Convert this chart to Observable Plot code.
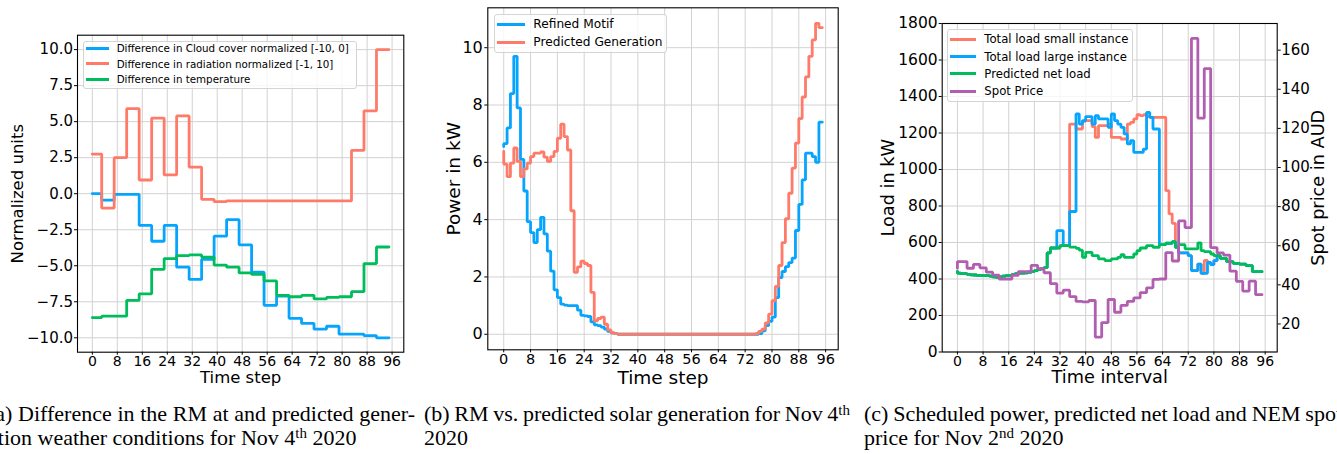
<!DOCTYPE html>
<html>
<head>
<meta charset="utf-8">
<script src="https://cdn.jsdelivr.net/npm/d3@7"></script>
<script src="https://cdn.jsdelivr.net/npm/@observablehq/plot@0.6"></script>
<style>
  html, body { margin: 0; padding: 0; background: #fff; }
  body { width: 1337px; height: 454px; overflow: hidden; position: relative; font-family: "DejaVu Sans", sans-serif; }
  .panel { position: absolute; top: 0; }
  .legend { position: absolute; background: rgba(255,255,255,0.8); border: 1px solid #d4d4d4; border-radius: 3px; box-sizing: border-box; }
  .cap { position: absolute; font-family: "Liberation Serif", "Times New Roman", serif; font-size: 22px; line-height: 23.5px; white-space: nowrap; color: #000; }
  .just { text-align: justify; text-align-last: justify; white-space: normal; word-spacing: -1.5px; }
  .sup { font-size: 68%; line-height: 0; position: relative; top: -0.45em; }
</style>
</head>
<body>
<div id="root"></div>
<script>
// ---------- shared axis values ----------
const timeSteps = d3.range(96);               // quarter-hour steps 0..95
const xTicks = [0, 8, 16, 24, 32, 40, 48, 56, 64, 72, 80, 88, 96];

// ---------- panel (a): hourly differences ----------
const cloudHourly = [0.0, -0.45, -0.05, -0.05, -2.2, -3.3, -2.2, -5.1, -5.95, -4.55, -2.95, -1.8,
  -3.55, -5.45, -7.75, -7.1, -8.65, -9.0, -9.4, -9.2, -9.75, -9.75, -9.85, -10.0];
const radiationHourly = [2.75, -1.0, 2.5, 5.9, 0.95, 5.25, 1.3, 5.4, 1.85, -0.4, -0.55, -0.5,
  -0.5, -0.5, -0.5, -0.5, -0.5, -0.5, -0.5, -0.5, -0.5, 3.0, 5.75, 10.0];
const temperatureHourly = [-8.6, -8.5, -8.5, -7.4, -6.95, -5.25, -4.5, -4.3, -4.25, -4.4, -4.95, -5.1,
  -5.5, -5.6, -6.05, -7.05, -7.15, -7.05, -7.3, -7.2, -7.15, -6.8, -4.85, -3.7];
const yTicksA = [-10, -7.5, -5, -2.5, 0, 2.5, 5, 7.5, 10];

// ---------- panel (b): refined motif vs predicted generation (kW) ----------
const refinedMotif = [
  6.55, 6.65, 7.2, 8.4, 9.7, 7.9, 6.1, 5.0, 3.93, 3.55,
  3.2, 3.65, 4.08, 3.5, 2.9, 2.2, 1.55, 1.28, 1.05, 1.02,
  1.0, 1.0, 1.0, 0.84, 0.66, 0.64, 0.62, 0.43, 0.33, 0.3,
  0.25, 0.18, 0.1, 0.05, 0.02, 0, 0, 0, 0, 0,
  0, 0, 0, 0, 0, 0, 0, 0, 0, 0,
  0, 0, 0, 0, 0, 0, 0, 0, 0, 0,
  0, 0, 0, 0, 0, 0, 0, 0, 0, 0,
  0, 0, 0, 0, 0, 0, 0, 0.02, 0.12, 0.3,
  0.45, 0.6, 1.28, 1.98, 2.19, 2.36, 2.5, 2.66, 3.62, 4.53,
  5.39, 6.32, 6.32, 6.2, 6.0, 7.4];
const predictedGeneration = [
  6.38, 5.94, 5.5, 5.97, 6.5, 6.03, 5.5, 5.77, 5.97, 6.2,
  6.32, 6.32, 6.36, 6.18, 6.03, 6.2, 6.38, 6.84, 7.33, 6.9,
  6.43, 4.31, 2.16, 2.35, 2.55, 2.47, 2.4, 1.46, 0.47, 0.55,
  0.6, 0.35, 0.15, 0.05, 0.02, 0, 0, 0, 0, 0,
  0, 0, 0, 0, 0, 0, 0, 0, 0, 0,
  0, 0, 0, 0, 0, 0, 0, 0, 0, 0,
  0, 0, 0, 0, 0, 0, 0, 0, 0, 0,
  0, 0, 0, 0, 0, 0, 0.02, 0.1, 0.18, 0.4,
  0.7, 1.17, 1.67, 2.4, 3.2, 4.03, 4.92, 5.8, 6.67, 7.53,
  8.28, 8.98, 9.7, 10.27, 10.85, 10.7];
const yTicksB = [0, 2, 4, 6, 8, 10];

// ---------- panel (c): loads (kW) and spot price (AUD) ----------
const totalLoadSmall = [
  440, 432, 429, 429, 425, 423, 422, 420, 420, 418,
  418, 416, 412, 409, 412, 416, 418, 420, 425, 430,
  432, 432, 434, 437, 440, 446, 452, 456, 462, 543,
  570, 570, 570, 583, 583, 583, 1249, 1249, 1222, 1222,
  1264, 1268, 1268, 1235, 1176, 1240, 1240, 1240, 1249, 1176,
  1176, 1176, 1167, 1167, 1249, 1258, 1277, 1300, 1295, 1300,
  1290, 1286, 1286, 1286, 1286, 1286, 884, 757, 705, 574,
  543, 543, 543, 528, 446, 446, 482, 431, 502, 491,
  479, 501, 528, 513, 513, 495, 495, 486, 486, 482,
  482, 473, 473, 440, 440, 440];
const totalLoadLarge = [
  440, 432, 429, 429, 425, 423, 422, 420, 420, 418,
  418, 416, 412, 409, 412, 416, 418, 420, 425, 430,
  432, 432, 434, 437, 440, 446, 452, 456, 462, 543,
  570, 570, 665, 665, 583, 583, 770, 770, 1304, 1249,
  1268, 1290, 1290, 1249, 1295, 1277, 1277, 1277, 1231, 1304,
  1268, 1249, 1231, 1195, 1140, 1158, 1094, 1094, 1094, 1112,
  1313, 1286, 1222, 1222, 588, 588, 596, 596, 604, 574,
  543, 543, 543, 528, 446, 446, 482, 431, 431, 491,
  479, 501, 528, 513, 513, 495, 495, 486, 486, 482,
  482, 473, 473, 440, 440, 440];
const predictedNetLoad = [
  440, 432, 429, 429, 425, 423, 422, 420, 420, 418,
  418, 416, 412, 409, 412, 416, 418, 420, 425, 430,
  432, 432, 434, 437, 440, 446, 452, 456, 462, 543,
  570, 570, 570, 583, 583, 583, 575, 575, 568, 558,
  519, 546, 546, 528, 528, 510, 510, 501, 501, 510,
  510, 519, 533, 519, 519, 519, 537, 555, 570, 570,
  583, 583, 574, 574, 588, 588, 596, 596, 604, 574,
  588, 588, 565, 565, 565, 565, 598, 555, 550, 550,
  537, 528, 528, 513, 513, 495, 495, 486, 486, 482,
  482, 473, 473, 440, 440, 440];
const spotPrice = [
  48.5, 51.9, 51.9, 51.9, 48.5, 48.5, 50.5, 50.5, 48.7, 48.7,
  46.5, 46.5, 45.0, 45.0, 43.0, 43.0, 43.0, 43.0, 44.9, 44.9,
  46.8, 46.8, 46.8, 46.8, 50.0, 50.0, 48.3, 48.3, 46.2, 46.2,
  40.6, 40.6, 35.8, 35.8, 37.3, 37.3, 34.0, 34.0, 31.5, 31.5,
  31.3, 31.3, 32.0, 32.0, 13.3, 13.3, 20.7, 20.7, 32.5, 32.5,
  26.0, 26.0, 29.5, 29.5, 31.5, 31.5, 33.3, 33.3, 36.0, 36.0,
  38.5, 38.5, 42.8, 42.8, 43.0, 43.0, 56.5, 56.5, 52.2, 52.2,
  72.7, 72.7, 69.3, 69.3, 166.0, 166.0, 125.3, 125.3, 150.6, 150.6,
  59.0, 59.0, 56.3, 56.3, 55.2, 55.2, 47.0, 47.0, 41.8, 41.8,
  36.8, 36.8, 41.9, 41.9, 35.0, 35.0];
const loadTicks = [0, 200, 400, 600, 800, 1000, 1200, 1400, 1600, 1800];
const priceTicks = [20, 40, 60, 80, 100, 120, 140, 160];

// ---------- styling ----------
const COL = { red: "#fe7b69", blue: "#06a5fd", green: "#00bd5c", purple: "#b25eb0" };
const GRID = "#d2d2d2";
const LW = 2.8;
const FONT = "'DejaVu Sans', sans-serif";
const pad = ([a, b]) => [a - 0.05 * (b - a), b + 0.05 * (b - a)];   // matplotlib-like auto margins
const rowsOf = vals => timeSteps.map(t => ({ t, v: vals[t] }));
const hourlyRows = vals => timeSteps.map(t => ({ t, v: vals[Math.floor(t / 4)] }));
const lineOpts = c => ({ x: "t", y: "v", curve: "step-before", stroke: c, strokeWidth: LW, strokeLinejoin: "miter" });
const baseStyle = { fontFamily: FONT, color: "black", background: "transparent", overflow: "visible" };
const root = document.getElementById("root");
const xLabel = (s, dy, fs) => Plot.text([s], { frameAnchor: "bottom", lineAnchor: "middle", textAnchor: "middle", dy, fontSize: fs, text: d => d, fill: "black" });
const yLabel = (s, side, dx, fs) => Plot.text([s], { frameAnchor: side, lineAnchor: "middle", textAnchor: "middle", rotate: -90, dx, fontSize: fs, text: d => d, fill: "black" });

function place(svg, left) {
  const d = document.createElement("div");
  d.className = "panel";
  d.style.left = left + "px";
  d.appendChild(svg);
  root.appendChild(d);
}

function legend({ left, top, width, height, hx0, hx1, tx, fontSize, rows }) {
  const box = document.createElement("div");
  box.className = "legend";
  Object.assign(box.style, { left: left + "px", top: top + "px", width: width + "px", height: height + "px" });
  root.appendChild(box);
  for (const r of rows) {
    const h = document.createElement("div");
    Object.assign(h.style, { position: "absolute", left: hx0 + "px", top: (r.y - 1.5) + "px",
      width: (hx1 - hx0) + "px", height: "3px", background: r.color });
    root.appendChild(h);
    const t = document.createElement("div");
    Object.assign(t.style, { position: "absolute", left: tx + "px", top: r.y + "px", transform: "translateY(-50%)",
      fontSize: fontSize + "px", lineHeight: "1.2", whiteSpace: "nowrap", fontFamily: FONT, color: "#000" });
    t.textContent = r.label;
    root.appendChild(t);
  }
}

// ---------- panel (a) ----------
{
  const W = 415, H = 395;
  const svg = Plot.plot({
    width: W, height: H,
    marginLeft: 77, marginRight: W - 403.3, marginTop: 34.7, marginBottom: H - 351.7,
    style: baseStyle,
    x: { domain: pad(d3.extent(timeSteps)), label: null },
    y: { domain: pad(d3.extent([...cloudHourly, ...radiationHourly, ...temperatureHourly])), label: null },
    marks: [
      Plot.gridX(xTicks, { stroke: GRID, strokeOpacity: 1, strokeWidth: 1 }),
      Plot.gridY(yTicksA, { stroke: GRID, strokeOpacity: 1, strokeWidth: 1 }),
      Plot.line(hourlyRows(cloudHourly), lineOpts(COL.blue)),
      Plot.line(hourlyRows(radiationHourly), lineOpts(COL.red)),
      Plot.line(hourlyRows(temperatureHourly), lineOpts(COL.green)),
      Plot.frame({ stroke: "black", strokeWidth: 1.1 }),
      Plot.axisX(xTicks, { tickSize: 3, tickPadding: 1, fontSize: 14, tickFormat: d3.format("d"), label: null }),
      Plot.axisY(yTicksA, { tickSize: 3, tickPadding: 1.5, fontSize: 15, tickFormat: d3.format(".1f"), label: null }),
      xLabel("Time step", 25.5, 16.5),
      yLabel("Normalized units", "left", -59.7, 16.5)
    ]
  });
  place(svg, 0);
  legend({ left: 82.7, top: 40.7, width: 274.6, height: 48.6, hx0: 86, hx1: 109.3, tx: 116.7, fontSize: 10.3,
    rows: [
      { label: "Difference in Cloud cover normalized [-10, 0]", color: COL.blue, y: 48.3 },
      { label: "Difference in radiation normalized [-1, 10]", color: COL.red, y: 63.7 },
      { label: "Difference in temperature", color: COL.green, y: 79 }
    ] });
}

// ---------- panel (b) ----------
{
  const L = 420, W = 440, H = 395;
  const svg = Plot.plot({
    width: W, height: H,
    marginLeft: 487.3 - L, marginRight: L + W - 837.7, marginTop: 7.3, marginBottom: H - 349.3,
    style: baseStyle,
    x: { domain: pad(d3.extent(timeSteps)), label: null },
    y: { domain: pad(d3.extent([...refinedMotif, ...predictedGeneration])), label: null },
    marks: [
      Plot.gridX(xTicks, { stroke: GRID, strokeOpacity: 1, strokeWidth: 1 }),
      Plot.gridY(yTicksB, { stroke: GRID, strokeOpacity: 1, strokeWidth: 1 }),
      Plot.line(rowsOf(refinedMotif), lineOpts(COL.blue)),
      Plot.line(rowsOf(predictedGeneration), lineOpts(COL.red)),
      Plot.frame({ stroke: "black", strokeWidth: 1.1 }),
      Plot.axisX(xTicks, { tickSize: 3, tickPadding: 1, fontSize: 14.5, tickFormat: d3.format("d"), label: null }),
      Plot.axisY(yTicksB, { tickSize: 3, tickPadding: 2, fontSize: 16, tickFormat: d3.format("d"), label: null }),
      xLabel("Time step", 28, 18.5),
      yLabel("Power in kW", "left", -34, 18.5)
    ]
  });
  place(svg, L);
  legend({ left: 493.5, top: 14, width: 173.2, height: 39.3, hx0: 496.7, hx1: 525, tx: 533.3, fontSize: 12.2,
    rows: [
      { label: "Refined Motif", color: COL.blue, y: 24.3 },
      { label: "Predicted Generation", color: COL.red, y: 42.3 }
    ] });
}

// ---------- panel (c) ----------
{
  const L = 870, W = 467, H = 395;
  const loadDomain = [0, 1800];
  const priceDomain = pad(d3.extent(spotPrice));
  const toLoad = p => (p - priceDomain[0]) / (priceDomain[1] - priceDomain[0]) * (loadDomain[1] - loadDomain[0]) + loadDomain[0];
  const toPrice = v => (v - loadDomain[0]) / (loadDomain[1] - loadDomain[0]) * (priceDomain[1] - priceDomain[0]) + priceDomain[0];
  const svg = Plot.plot({
    width: W, height: H,
    marginLeft: 941.7 - L, marginRight: L + W - 1276.7, marginTop: 23, marginBottom: H - 351.5,
    style: baseStyle,
    x: { domain: pad(d3.extent(timeSteps)), label: null },
    y: { domain: loadDomain, label: null },
    marks: [
      Plot.gridX(xTicks, { stroke: GRID, strokeOpacity: 1, strokeWidth: 1 }),
      Plot.gridY(loadTicks, { stroke: GRID, strokeOpacity: 1, strokeWidth: 1 }),
      Plot.line(rowsOf(totalLoadSmall), lineOpts(COL.red)),
      Plot.line(rowsOf(totalLoadLarge), lineOpts(COL.blue)),
      Plot.line(rowsOf(predictedNetLoad), lineOpts(COL.green)),
      Plot.line(rowsOf(spotPrice), { ...lineOpts(COL.purple), y: d => toLoad(d.v) }),
      Plot.frame({ stroke: "black", strokeWidth: 1.1 }),
      Plot.axisX(xTicks, { tickSize: 3, tickPadding: 1, fontSize: 14, tickFormat: d3.format("d"), label: null }),
      Plot.axisY(loadTicks, { tickSize: 3, tickPadding: 1.5, fontSize: 15.5, tickFormat: d3.format("d"), label: null }),
      Plot.axisY(priceTicks.map(toLoad), { anchor: "right", tickSize: 3, tickPadding: 1, fontSize: 15,
        tickFormat: v => d3.format("d")(Math.round(toPrice(v))), label: null }),
      xLabel("Time interval", 25, 17.7),
      yLabel("Load in kW", "left", -54.2, 17.7),
      yLabel("Spot price in AUD", "right", 41.1, 17.7)
    ]
  });
  place(svg, L);
  legend({ left: 946.7, top: 29.3, width: 186.6, height: 72.4, hx0: 950, hx1: 976, tx: 984.3, fontSize: 11.7,
    rows: [
      { label: "Total load small instance", color: COL.red, y: 39.3 },
      { label: "Total load large instance", color: COL.blue, y: 56.7 },
      { label: "Predicted net load", color: COL.green, y: 73.7 },
      { label: "Spot Price", color: COL.purple, y: 91 }
    ] });
}
</script>

<div class="cap just" style="left:-12px; top:402.3px; width:427px;">(a) Difference in the RM at and predicted gener-</div>
<div class="cap" style="left:-12px; top:425.8px;">ation weather conditions for Nov 4<span class="sup">th</span> 2020</div>

<div class="cap just" style="left:424px; top:402.3px; width:426px;">(b) RM vs. predicted solar generation for Nov 4<span class="sup">th</span></div>
<div class="cap" style="left:424px; top:425.8px;">2020</div>

<div class="cap just" style="left:864px; top:402.3px; width:478px;">(c) Scheduled power, predicted net load and NEM spot</div>
<div class="cap" style="left:864px; top:425.8px;">price for Nov 2<span class="sup">nd</span> 2020</div>
</body>
</html>
